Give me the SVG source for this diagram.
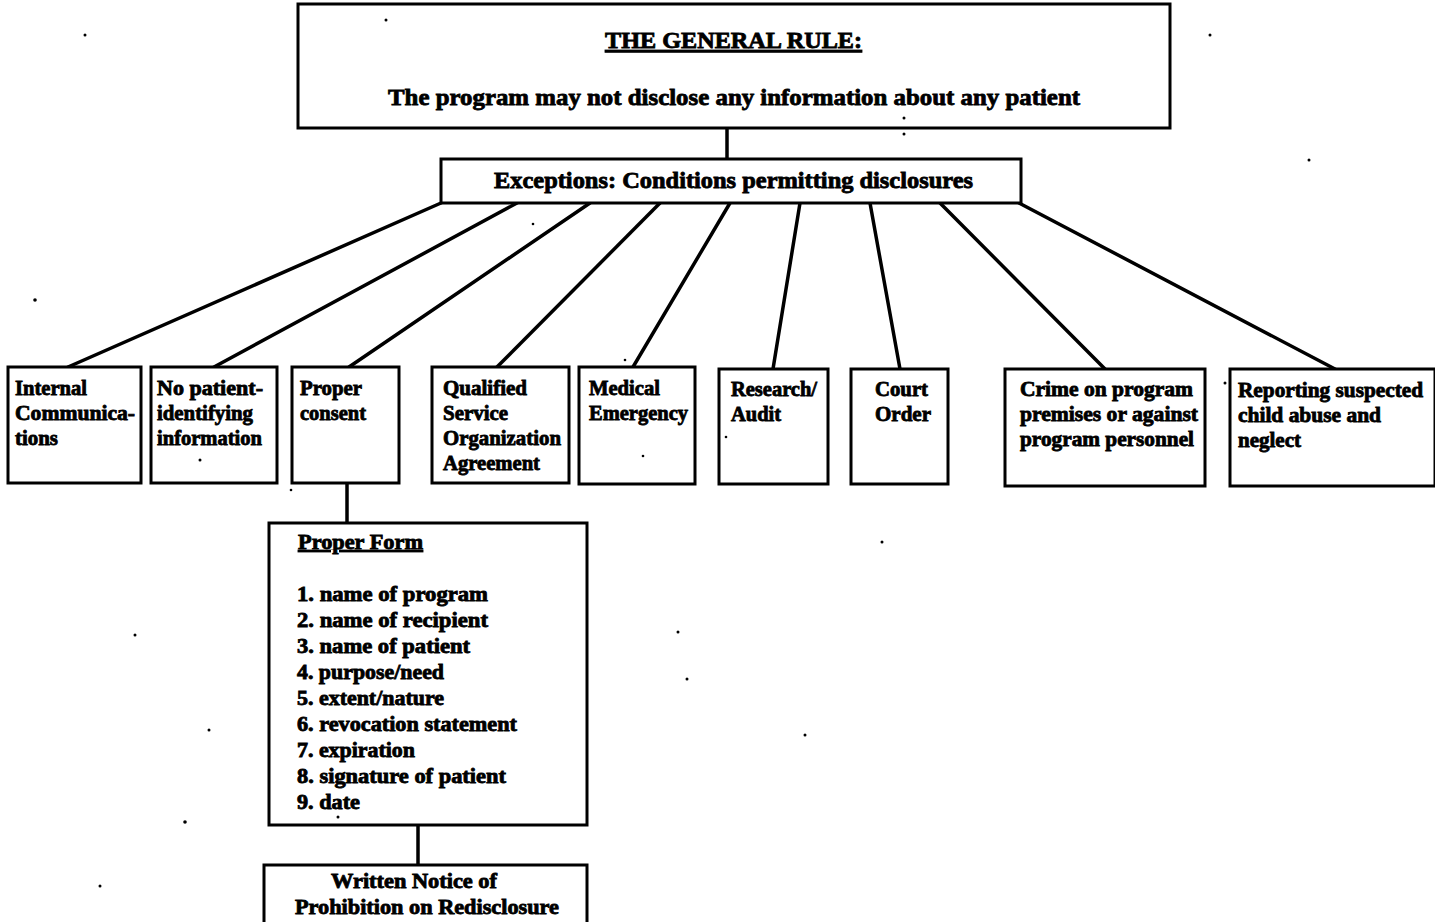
<svg xmlns="http://www.w3.org/2000/svg" width="1435" height="922" viewBox="0 0 1435 922">
<style>
.box{fill:#fff;stroke:#000;stroke-width:3}
.ln{stroke:#000;stroke-width:3.5;fill:none;stroke-linecap:round}
text{font-family:"Liberation Serif","DejaVu Serif",serif;font-weight:bold;fill:#000;stroke:#000;stroke-width:0.8}
.big{font-size:23px}
.t{font-size:20px}
.u{text-decoration:underline}
.speck{fill:#000}
</style>
<rect width="1435" height="922" fill="#fff"/>
<g id="connectors">
<line class="ln" x1="727" y1="128" x2="727" y2="160"/>
<line class="ln" x1="441" y1="203" x2="68" y2="367"/>
<line class="ln" x1="517" y1="203" x2="214" y2="367"/>
<line class="ln" x1="590" y1="203" x2="349" y2="367"/>
<line class="ln" x1="660" y1="203" x2="497" y2="367"/>
<line class="ln" x1="730" y1="203" x2="633" y2="367"/>
<line class="ln" x1="800" y1="203" x2="773" y2="369"/>
<line class="ln" x1="870" y1="203" x2="900" y2="369"/>
<line class="ln" x1="940" y1="203" x2="1105" y2="369"/>
<line class="ln" x1="1019" y1="203" x2="1335" y2="369"/>
<line class="ln" x1="347" y1="483" x2="347" y2="523"/>
<line class="ln" x1="418" y1="825" x2="418" y2="865"/>
</g>
<g id="general-rule">
<rect class="box" x="298" y="4" width="872" height="124"/>
<text class="big u" x="605" y="48" textLength="257" lengthAdjust="spacingAndGlyphs">THE GENERAL RULE:</text>
<text class="big" x="388" y="105" textLength="692" lengthAdjust="spacingAndGlyphs">The program may not disclose any information about any patient</text>
</g>
<g id="exceptions">
<rect class="box" x="441" y="159" width="580" height="44"/>
<text class="big" x="494" y="188" textLength="479" lengthAdjust="spacingAndGlyphs">Exceptions: Conditions permitting disclosures</text>
</g>
<g id="internal">
<rect class="box" x="8" y="367" width="133" height="116"/>
<text class="t" x="15" y="395" textLength="72" lengthAdjust="spacingAndGlyphs">Internal</text>
<text class="t" x="15" y="420" textLength="120" lengthAdjust="spacingAndGlyphs">Communica-</text>
<text class="t" x="15" y="445" textLength="43" lengthAdjust="spacingAndGlyphs">tions</text>
</g>
<g id="no-patient">
<rect class="box" x="151" y="367" width="126" height="116"/>
<text class="t" x="157" y="395" textLength="106" lengthAdjust="spacingAndGlyphs">No patient-</text>
<text class="t" x="157" y="420" textLength="96" lengthAdjust="spacingAndGlyphs">identifying</text>
<text class="t" x="157" y="445" textLength="105" lengthAdjust="spacingAndGlyphs">information</text>
</g>
<g id="proper-consent">
<rect class="box" x="292" y="367" width="107" height="116"/>
<text class="t" x="300" y="395" textLength="62" lengthAdjust="spacingAndGlyphs">Proper</text>
<text class="t" x="300" y="420" textLength="66" lengthAdjust="spacingAndGlyphs">consent</text>
</g>
<g id="qsoa">
<rect class="box" x="432" y="367" width="137" height="116"/>
<text class="t" x="443" y="395" textLength="84" lengthAdjust="spacingAndGlyphs">Qualified</text>
<text class="t" x="443" y="420" textLength="65" lengthAdjust="spacingAndGlyphs">Service</text>
<text class="t" x="443" y="445" textLength="118" lengthAdjust="spacingAndGlyphs">Organization</text>
<text class="t" x="443" y="470" textLength="97" lengthAdjust="spacingAndGlyphs">Agreement</text>
</g>
<g id="medical">
<rect class="box" x="579" y="367" width="116" height="117"/>
<text class="t" x="589" y="395" textLength="71" lengthAdjust="spacingAndGlyphs">Medical</text>
<text class="t" x="589" y="420" textLength="99" lengthAdjust="spacingAndGlyphs">Emergency</text>
</g>
<g id="research">
<rect class="box" x="719" y="369" width="109" height="115"/>
<text class="t" x="731" y="396" textLength="86" lengthAdjust="spacingAndGlyphs">Research/</text>
<text class="t" x="731" y="421" textLength="50" lengthAdjust="spacingAndGlyphs">Audit</text>
</g>
<g id="court">
<rect class="box" x="851" y="369" width="97" height="115"/>
<text class="t" x="875" y="396" textLength="53" lengthAdjust="spacingAndGlyphs">Court</text>
<text class="t" x="875" y="421" textLength="56" lengthAdjust="spacingAndGlyphs">Order</text>
</g>
<g id="crime">
<rect class="box" x="1005" y="369" width="200" height="117"/>
<text class="t" x="1020" y="396" textLength="173" lengthAdjust="spacingAndGlyphs">Crime on program</text>
<text class="t" x="1020" y="421" textLength="178" lengthAdjust="spacingAndGlyphs">premises or against</text>
<text class="t" x="1020" y="446" textLength="174" lengthAdjust="spacingAndGlyphs">program personnel</text>
</g>
<g id="reporting">
<rect class="box" x="1230" y="369" width="205" height="117"/>
<text class="t" x="1238" y="397" textLength="185" lengthAdjust="spacingAndGlyphs">Reporting suspected</text>
<text class="t" x="1238" y="422" textLength="143" lengthAdjust="spacingAndGlyphs">child abuse and</text>
<text class="t" x="1238" y="447" textLength="63" lengthAdjust="spacingAndGlyphs">neglect</text>
</g>
<g id="proper-form">
<rect class="box" x="269" y="523" width="318" height="302"/>
<text class="t u" x="298" y="549" textLength="125" lengthAdjust="spacingAndGlyphs">Proper Form</text>
<text class="t" x="297" y="601" textLength="191" lengthAdjust="spacingAndGlyphs">1. name of program</text>
<text class="t" x="297" y="627" textLength="191" lengthAdjust="spacingAndGlyphs">2. name of recipient</text>
<text class="t" x="297" y="653" textLength="173" lengthAdjust="spacingAndGlyphs">3. name of patient</text>
<text class="t" x="297" y="679" textLength="147" lengthAdjust="spacingAndGlyphs">4. purpose/need</text>
<text class="t" x="297" y="705" textLength="147" lengthAdjust="spacingAndGlyphs">5. extent/nature</text>
<text class="t" x="297" y="731" textLength="220" lengthAdjust="spacingAndGlyphs">6. revocation statement</text>
<text class="t" x="297" y="757" textLength="118" lengthAdjust="spacingAndGlyphs">7. expiration</text>
<text class="t" x="297" y="783" textLength="209" lengthAdjust="spacingAndGlyphs">8. signature of patient</text>
<text class="t" x="297" y="809" textLength="63" lengthAdjust="spacingAndGlyphs">9. date</text>
</g>
<g id="written-notice">
<rect class="box" x="264" y="865" width="323" height="62"/>
<text class="t" x="331" y="888" textLength="166" lengthAdjust="spacingAndGlyphs">Written Notice of</text>
<text class="t" x="295" y="914" textLength="264" lengthAdjust="spacingAndGlyphs">Prohibition on Redisclosure</text>
</g>
<g id="specks" class="speck">
<circle cx="85" cy="35" r="1.5"/>
<circle cx="386" cy="20" r="1.5"/>
<circle cx="1210" cy="35" r="1.5"/>
<circle cx="904" cy="118" r="1.5"/>
<circle cx="904" cy="134" r="1.5"/>
<circle cx="1309" cy="160" r="1.5"/>
<circle cx="35" cy="300" r="1.8"/>
<circle cx="533" cy="224" r="1.3"/>
<circle cx="200" cy="460" r="1.5"/>
<circle cx="291" cy="490" r="1.3"/>
<circle cx="643" cy="456" r="1.3"/>
<circle cx="726" cy="437" r="1.3"/>
<circle cx="1225" cy="383" r="1.5"/>
<circle cx="882" cy="542" r="1.5"/>
<circle cx="135" cy="635" r="1.5"/>
<circle cx="678" cy="632" r="1.5"/>
<circle cx="687" cy="679" r="1.5"/>
<circle cx="209" cy="730" r="1.5"/>
<circle cx="805" cy="735" r="1.5"/>
<circle cx="185" cy="822" r="1.8"/>
<circle cx="100" cy="886" r="1.5"/>
<circle cx="338" cy="817" r="1.5"/>
<circle cx="625" cy="360" r="1.3"/>
</g>
</svg>
